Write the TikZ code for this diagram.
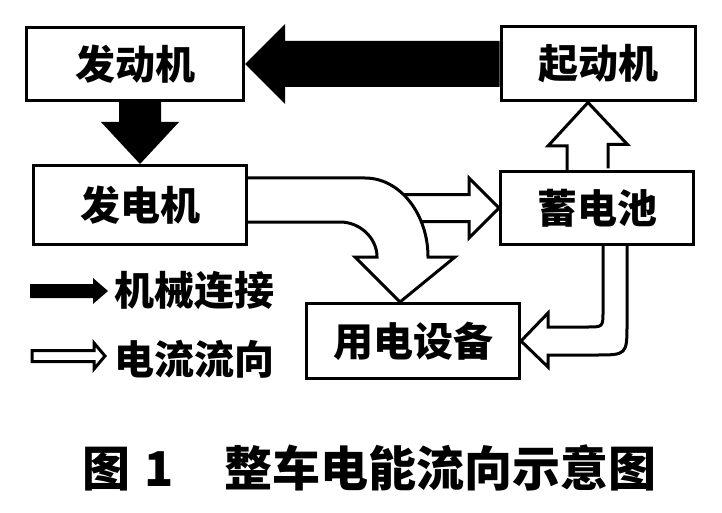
\documentclass[tikz,border=0pt]{standalone}
\usepackage{fontspec}
\newfontfamily\cjk{Noto Sans CJK SC}
\usepackage{tikz}
\usetikzlibrary{positioning}
\usetikzlibrary{calc}

\begin{document}
\begin{tikzpicture}[
  x=1pt, y=-1pt,
  line width=3pt, line join=miter,
  font=\cjk\bfseries\fontsize{40}{40}\selectfont,
  box/.style={draw, fill=white, inner sep=0pt},
  mech/.style={fill=black},
  elec/.style={draw, fill=white},
  legend/.style={anchor=west, inner sep=0pt}
]
\useasboundingbox (0,0) rectangle (722,513);

% Units
\node[box, minimum width=217pt, minimum height=73pt] (engine) at (135,64) {发动机};
\node[box, minimum width=194pt, minimum height=74pt] (starter) at (598,64) {起动机};
\node[box, minimum width=213pt, minimum height=79pt] (alt) at (140,205) {发电机};
\node[box, minimum width=193pt, minimum height=73pt] (bat) at (597,208) {蓄电池};
\node[box, minimum width=213pt, minimum height=75pt] (load) at (413,341) {用电设备};

% Legend
\node[legend] (mechtxt) at (113,291) {机械连接};
\node[legend] (electxt) at (113,359) {电流流向};

% Mechanical links
\fill[mech] (engine.east) -- ++(40,-40) -- ++(0,17) -- ($(starter.west)+(0,-23)$)
  -- ($(starter.west)+(0,23)$) -- ($(engine.east)+(40,23)$) -- ++(0,17) -- cycle;
\fill[mech] (alt.north) -- ++(-39,-42) -- ++(18,0) -- ($(alt.north |- engine.south)+(-21,0)$)
  -- ++(42,0) -- ($(alt.north)+(21,-42)$) -- ++(18,0) -- cycle;

% Current flow
\draw[elec] ($(bat.north)+(-30,0)$) -- ++(0,-24) -- ++(-19,0) -- ($(starter.south)+(-10,0)$)
  -- ++(39.5,42) -- ++(-19.5,0) -- ++(0,24);
\draw[elec] (398,194.5) -- ($(bat.west)+(-30,-13.5)$) -- ++(0,-16.5) -- (bat.west)
  -- ++(-30,30) -- ++(0,-16.5) -- (412,221.5);
\draw[elec] ($(alt.east)+(0,-27)$) -- (365,178) .. controls (400,178) and (428,214) .. (428,257)
  -- (455,257) -- ($(load.north)+(-13,0)$) -- (355,257) -- (377,257)
  .. controls (377,238) and (360,222) .. (340,222) -- ($(alt.east)+(0,17)$);
\draw[elec] ($(bat.south)+(6,0)$) -- (603,311) .. controls (603,327) .. (587,327) -- (548,327)
  -- (548,313) -- (load.east) -- (548,367) -- (548,355) -- (595,355)
  .. controls (627,355) .. (627,323) -- ($(bat.south)+(30,0)$);

% Legend arrows
\fill[mech] ($(mechtxt.west)+(-5,0)$) -- ++(-15,-13) -- ++(0,6) -- ++(-63,0) -- ++(0,14)
  -- ++(63,0) -- ++(0,6) -- cycle;
\draw[elec] ($(electxt.west)+(-8,-3)$) -- ++(-11,-13) -- ++(0,7.5) -- ++(-62,0) -- ++(0,11)
  -- ++(62,0) -- ++(0,7.5) -- cycle;

% Caption
\node[legend, font=\cjk\bfseries\fontsize{48}{48}\selectfont] (cap) at (81,468)
  {图\hspace{0.3em}1\hspace{1.05em}整车电能流向示意图};

\end{tikzpicture}
\end{document}
